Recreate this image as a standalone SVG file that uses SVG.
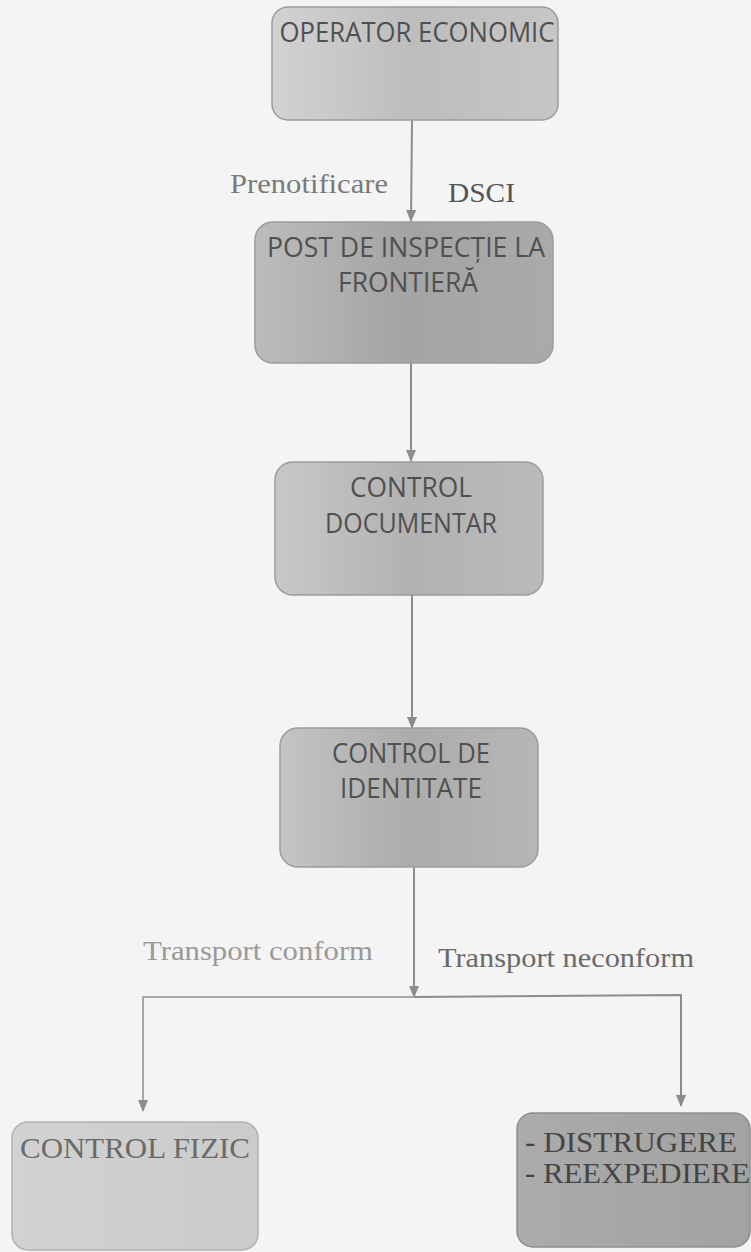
<svg xmlns="http://www.w3.org/2000/svg" width="751" height="1252" viewBox="0 0 751 1252">
<style>
.box{stroke:#9c9c9c;stroke-width:1.5}
.nt{font-family:"Open Sans","DejaVu Sans",sans-serif;font-size:27px;fill:#505050;text-anchor:middle}
.st{font-family:"Liberation Serif","Times New Roman",serif;font-size:30px}
.lbl{font-family:"Liberation Serif","Times New Roman",serif;font-size:28px;fill:#7a7a7a}
.con{fill:none;stroke:#8c8c8c;stroke-width:2}
</style>
<defs>
<marker id="ah" markerWidth="12" markerHeight="10" refX="11" refY="5" orient="auto" markerUnits="userSpaceOnUse">
<path d="M0,0 L12,5 L0,10 Z" fill="#8c8c8c"/>
</marker>
<linearGradient id="g1" x1="0" x2="1" y1="0" y2="0">
<stop offset="0" stop-color="#d2d2d2"/><stop offset="0.5" stop-color="#bdbdbd"/><stop offset="1" stop-color="#c6c6c6"/>
</linearGradient>
<linearGradient id="g2" x1="0" x2="1" y1="0" y2="0">
<stop offset="0" stop-color="#bcbcbc"/><stop offset="0.5" stop-color="#a4a4a4"/><stop offset="1" stop-color="#aaaaaa"/>
</linearGradient>
<linearGradient id="g3" x1="0" x2="1" y1="0" y2="0">
<stop offset="0" stop-color="#c8c8c8"/><stop offset="0.5" stop-color="#b2b2b2"/><stop offset="1" stop-color="#bababa"/>
</linearGradient>
<linearGradient id="g4" x1="0" x2="1" y1="0" y2="0">
<stop offset="0" stop-color="#c4c4c4"/><stop offset="0.5" stop-color="#acacac"/><stop offset="1" stop-color="#b6b6b6"/>
</linearGradient>
<linearGradient id="g5" x1="0" x2="1" y1="0" y2="0">
<stop offset="0" stop-color="#d2d2d2"/><stop offset="1" stop-color="#cbcbcb"/>
</linearGradient>
<linearGradient id="g6" x1="0" x2="1" y1="0" y2="0">
<stop offset="0" stop-color="#ababab"/><stop offset="1" stop-color="#a2a2a2"/>
</linearGradient>
</defs>
<rect width="751" height="1252" fill="#f4f4f4"/>

<g id="connectors">
<line class="con" x1="412" y1="120" x2="411" y2="221" marker-end="url(#ah)"/>
<line class="con" x1="411" y1="363" x2="411" y2="461" marker-end="url(#ah)"/>
<line class="con" x1="412" y1="595" x2="412" y2="728" marker-end="url(#ah)"/>
<line class="con" x1="414" y1="867" x2="414" y2="997" marker-end="url(#ah)"/>
<polyline class="con" points="414,997 143,997 143,1111" marker-end="url(#ah)" style="stroke:#a8a8a8"/>
<polyline class="con" points="414,997 681,995 681,1106" marker-end="url(#ah)"/>
<text class="lbl" x="230" y="193" textLength="158" lengthAdjust="spacingAndGlyphs">Prenotificare</text>
<text class="lbl" x="448" y="202" textLength="67" lengthAdjust="spacingAndGlyphs" style="fill:#555">DSCI</text>
<text class="lbl" x="143" y="960" textLength="230" lengthAdjust="spacingAndGlyphs" style="fill:#999">Transport conform</text>
<text class="lbl" x="438" y="967" textLength="256" lengthAdjust="spacingAndGlyphs" style="fill:#6a6a6a">Transport neconform</text>
</g>

<g id="n1">
<rect class="box" x="272" y="7" width="286" height="113" rx="16" fill="url(#g1)"/>
<text class="nt" x="417" y="42" textLength="275" lengthAdjust="spacingAndGlyphs">OPERATOR ECONOMIC</text>
</g>
<g id="n2">
<rect class="box" x="255" y="222" width="298" height="141" rx="18" fill="url(#g2)"/>
<text class="nt" x="406" y="257" textLength="278" lengthAdjust="spacingAndGlyphs">POST DE INSPECȚIE LA</text>
<text class="nt" x="408" y="292" textLength="140" lengthAdjust="spacingAndGlyphs">FRONTIERĂ</text>
</g>
<g id="n3">
<rect class="box" x="275" y="462" width="268" height="133" rx="18" fill="url(#g3)"/>
<text class="nt" x="411" y="497" textLength="122" lengthAdjust="spacingAndGlyphs">CONTROL</text>
<text class="nt" x="411" y="533" textLength="172" lengthAdjust="spacingAndGlyphs">DOCUMENTAR</text>
</g>
<g id="n4">
<rect class="box" x="280" y="728" width="258" height="139" rx="18" fill="url(#g4)"/>
<text class="nt" x="411" y="763" textLength="158" lengthAdjust="spacingAndGlyphs">CONTROL DE</text>
<text class="nt" x="411" y="798" textLength="142" lengthAdjust="spacingAndGlyphs">IDENTITATE</text>
</g>
<g id="n5">
<rect class="box" x="12" y="1122" width="246" height="128" rx="16" fill="url(#g5)" style="stroke:#b0b0b0"/>
<text class="st" x="20" y="1158" textLength="230" lengthAdjust="spacingAndGlyphs" fill="#6a6a6a">CONTROL FIZIC</text>
</g>
<g id="n6">
<rect class="box" x="517" y="1113" width="233" height="134" rx="16" fill="url(#g6)" style="stroke:#8e8e8e"/>
<text class="st" x="525" y="1152" textLength="212" lengthAdjust="spacingAndGlyphs" fill="#454545">- DISTRUGERE</text>
<text class="st" x="525" y="1183" textLength="225" lengthAdjust="spacingAndGlyphs" fill="#454545">- REEXPEDIERE</text>
</g>
</svg>
